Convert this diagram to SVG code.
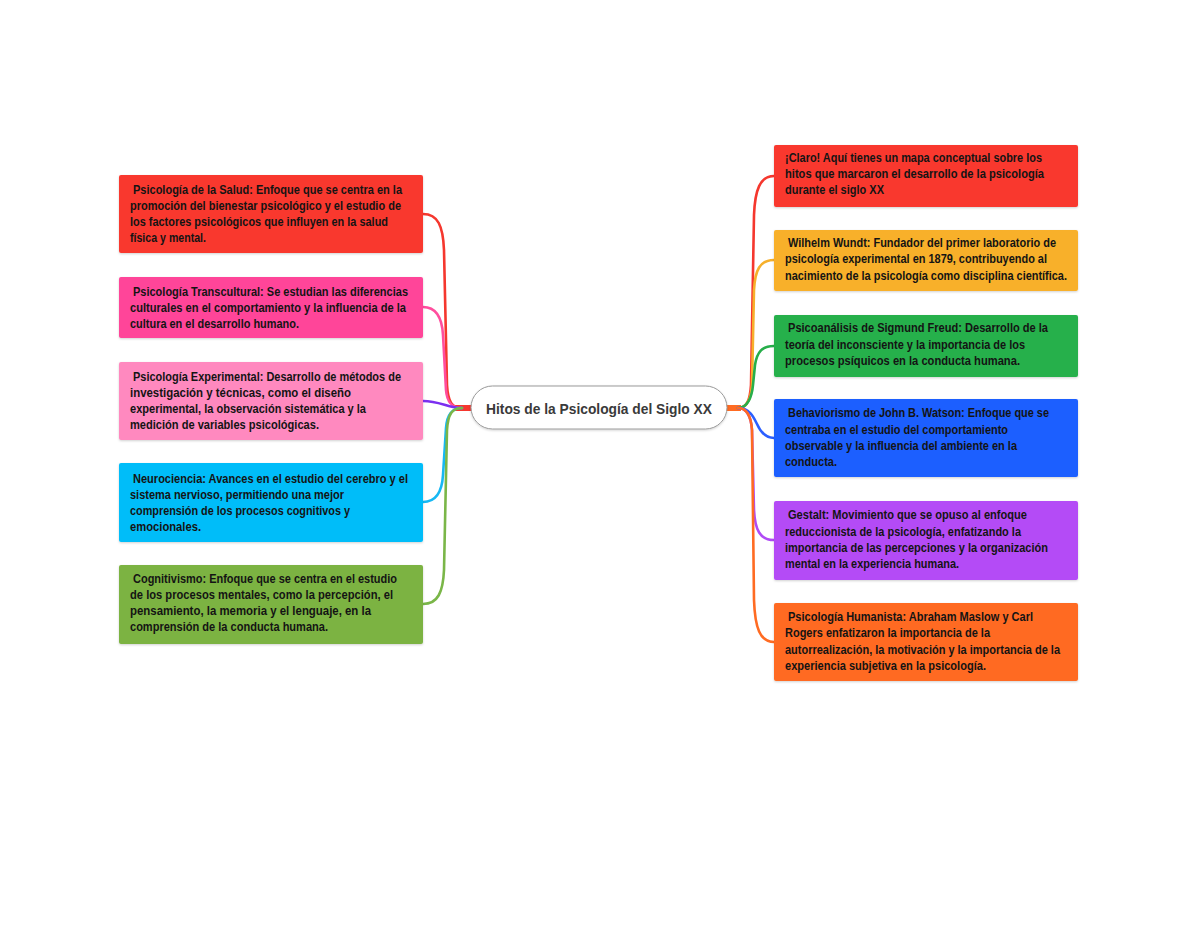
<svg xmlns="http://www.w3.org/2000/svg" width="1200" height="927" viewBox="0 0 1200 927">
<style>
.box{stroke:none}
.t{font-family:"Liberation Sans Narrow","Liberation Sans","DejaVu Sans Condensed",Arial,sans-serif;font-size:13px;font-weight:bold;fill:#141414}
.c{fill:none;stroke-width:2.6;stroke-linecap:round;stroke-linejoin:round}
.ct{font-family:"Liberation Sans",Arial,sans-serif;font-size:15px;font-weight:bold;fill:#3a3a3a}
</style>
<defs>
<filter id="sh" x="-10%" y="-20%" width="120%" height="150%">
<feDropShadow dx="0" dy="1" stdDeviation="1" flood-color="#000" flood-opacity="0.18"/>
</filter>
</defs>
<rect width="1200" height="927" fill="#ffffff"/>

<g id="connectors">
<line x1="455" y1="408" x2="472" y2="408" stroke="#F5372E" stroke-width="6"/>
<line x1="726" y1="408" x2="741" y2="408" stroke="#FF6B22" stroke-width="6"/>
<path class="c" stroke="#F5372E" d="M423,214 C438,214 443,226 444,250 L447,385 C448,402 452,408 462,408"/>
<path class="c" stroke="#FF4E9E" d="M423,307 C436,307 442,317 443,335 L446,390 C447,403 452,408 462,408"/>
<path class="c" stroke="#7B2FF0" d="M423,401 C440,401 448,408 462,408"/>
<path class="c" stroke="#16B8F3" d="M423,502 C436,502 442,492 443,475 L446,428 C447,414 452,408 462,408"/>
<path class="c" stroke="#7AB648" d="M423,604 C438,604 443,592 444,570 L447,430 C448,414 452,408 462,408"/>
<path class="c" stroke="#F5372E" d="M738,408 C747,408 750,400 751,385 L754,215 C755,190 760,176 774,176"/>
<path class="c" stroke="#F6B02B" d="M738,408 C747,408 751,398 752,385 L754,290 C755,270 760,260 774,260"/>
<path class="c" stroke="#27AE4A" d="M738,408 C748,408 752,396 753,385 L755,365 C757,352 762,346 774,346"/>
<path class="c" stroke="#2B5FFF" d="M738,408 C750,408 754,418 757,424 C761,433 766,438 774,438"/>
<path class="c" stroke="#B04CF5" d="M738,408 C747,408 751,416 752,430 L754,510 C755,530 760,540 774,540"/>
<path class="c" stroke="#FF6B22" d="M738,408 C747,408 751,416 752,430 L754,600 C755,628 760,642 774,642"/>
</g>

<g id="center">
<rect x="471" y="386" width="256" height="43" rx="21.5" fill="#ffffff" stroke="#9a9a9a" stroke-width="1" filter="url(#sh)"/>
<text class="ct" x="486" y="414" textLength="226" lengthAdjust="spacingAndGlyphs">Hitos de la Psicología del Siglo XX</text>
</g>

<g id="salud">
<rect class="box" x="119" y="175" width="304" height="78" rx="2" fill="#F9392F" filter="url(#sh)"/>
<text class="t" x="133" y="193.5" textLength="269" lengthAdjust="spacingAndGlyphs">Psicología de la Salud: Enfoque que se centra en la</text>
<text class="t" x="130" y="209.5" textLength="271" lengthAdjust="spacingAndGlyphs">promoción del bienestar psicológico y el estudio de</text>
<text class="t" x="130" y="225.5" textLength="258" lengthAdjust="spacingAndGlyphs">los factores psicológicos que influyen en la salud</text>
<text class="t" x="130" y="241.5" textLength="76" lengthAdjust="spacingAndGlyphs">física y mental.</text>
</g>

<g id="transcultural">
<rect class="box" x="119" y="277" width="304" height="61" rx="2" fill="#FF4499" filter="url(#sh)"/>
<text class="t" x="133" y="295.5" textLength="275" lengthAdjust="spacingAndGlyphs">Psicología Transcultural: Se estudian las diferencias</text>
<text class="t" x="130" y="311.5" textLength="276" lengthAdjust="spacingAndGlyphs">culturales en el comportamiento y la influencia de la</text>
<text class="t" x="130" y="327.5" textLength="169" lengthAdjust="spacingAndGlyphs">cultura en el desarrollo humano.</text>
</g>

<g id="experimental">
<rect class="box" x="119" y="362" width="304" height="78" rx="2" fill="#FF89BF" filter="url(#sh)"/>
<text class="t" x="133" y="381" textLength="268" lengthAdjust="spacingAndGlyphs">Psicología Experimental: Desarrollo de métodos de</text>
<text class="t" x="130" y="397" textLength="221" lengthAdjust="spacingAndGlyphs">investigación y técnicas, como el diseño</text>
<text class="t" x="130" y="413" textLength="236" lengthAdjust="spacingAndGlyphs">experimental, la observación sistemática y la</text>
<text class="t" x="130" y="429" textLength="189" lengthAdjust="spacingAndGlyphs">medición de variables psicológicas.</text>
</g>

<g id="neurociencia">
<rect class="box" x="119" y="463" width="304" height="79" rx="2" fill="#00BDF9" filter="url(#sh)"/>
<text class="t" x="133" y="483" textLength="275" lengthAdjust="spacingAndGlyphs">Neurociencia: Avances en el estudio del cerebro y el</text>
<text class="t" x="130" y="499" textLength="214" lengthAdjust="spacingAndGlyphs">sistema nervioso, permitiendo una mejor</text>
<text class="t" x="130" y="515" textLength="220" lengthAdjust="spacingAndGlyphs">comprensión de los procesos cognitivos y</text>
<text class="t" x="130" y="531" textLength="71" lengthAdjust="spacingAndGlyphs">emocionales.</text>
</g>

<g id="cognitivismo">
<rect class="box" x="119" y="565" width="304" height="79" rx="2" fill="#7CB342" filter="url(#sh)"/>
<text class="t" x="133" y="583" textLength="264" lengthAdjust="spacingAndGlyphs">Cognitivismo: Enfoque que se centra en el estudio</text>
<text class="t" x="130" y="599" textLength="263" lengthAdjust="spacingAndGlyphs">de los procesos mentales, como la percepción, el</text>
<text class="t" x="130" y="615" textLength="241" lengthAdjust="spacingAndGlyphs">pensamiento, la memoria y el lenguaje, en la</text>
<text class="t" x="130" y="631" textLength="198" lengthAdjust="spacingAndGlyphs">comprensión de la conducta humana.</text>
</g>

<g id="intro">
<rect class="box" x="774" y="145" width="304" height="62" rx="2" fill="#F9392F" filter="url(#sh)"/>
<text class="t" x="785" y="162" textLength="257" lengthAdjust="spacingAndGlyphs">¡Claro! Aquí tienes un mapa conceptual sobre los</text>
<text class="t" x="785" y="178" textLength="259" lengthAdjust="spacingAndGlyphs">hitos que marcaron el desarrollo de la psicología</text>
<text class="t" x="785" y="194" textLength="99" lengthAdjust="spacingAndGlyphs">durante el siglo XX</text>
</g>

<g id="wundt">
<rect class="box" x="774" y="230" width="304" height="61" rx="2" fill="#F8B02A" filter="url(#sh)"/>
<text class="t" x="788" y="247" textLength="268" lengthAdjust="spacingAndGlyphs">Wilhelm Wundt: Fundador del primer laboratorio de</text>
<text class="t" x="785" y="263" textLength="262" lengthAdjust="spacingAndGlyphs">psicología experimental en 1879, contribuyendo al</text>
<text class="t" x="785" y="280" textLength="282" lengthAdjust="spacingAndGlyphs">nacimiento de la psicología como disciplina científica.</text>
</g>

<g id="freud">
<rect class="box" x="774" y="315" width="304" height="62" rx="2" fill="#26B04B" filter="url(#sh)"/>
<text class="t" x="788" y="332" textLength="260" lengthAdjust="spacingAndGlyphs">Psicoanálisis de Sigmund Freud: Desarrollo de la</text>
<text class="t" x="785" y="349" textLength="240" lengthAdjust="spacingAndGlyphs">teoría del inconsciente y la importancia de los</text>
<text class="t" x="785" y="365" textLength="235" lengthAdjust="spacingAndGlyphs">procesos psíquicos en la conducta humana.</text>
</g>

<g id="watson">
<rect class="box" x="774" y="399" width="304" height="78" rx="2" fill="#1F5FFF" filter="url(#sh)"/>
<text class="t" x="788" y="417" textLength="261" lengthAdjust="spacingAndGlyphs">Behaviorismo de John B. Watson: Enfoque que se</text>
<text class="t" x="785" y="434" textLength="223" lengthAdjust="spacingAndGlyphs">centraba en el estudio del comportamiento</text>
<text class="t" x="785" y="450" textLength="232" lengthAdjust="spacingAndGlyphs">observable y la influencia del ambiente en la</text>
<text class="t" x="785" y="466" textLength="52" lengthAdjust="spacingAndGlyphs">conducta.</text>
</g>

<g id="gestalt">
<rect class="box" x="774" y="501" width="304" height="79" rx="2" fill="#B44BF6" filter="url(#sh)"/>
<text class="t" x="788" y="519" textLength="239" lengthAdjust="spacingAndGlyphs">Gestalt: Movimiento que se opuso al enfoque</text>
<text class="t" x="785" y="536" textLength="236" lengthAdjust="spacingAndGlyphs">reduccionista de la psicología, enfatizando la</text>
<text class="t" x="785" y="552" textLength="263" lengthAdjust="spacingAndGlyphs">importancia de las percepciones y la organización</text>
<text class="t" x="785" y="568" textLength="174" lengthAdjust="spacingAndGlyphs">mental en la experiencia humana.</text>
</g>

<g id="humanista">
<rect class="box" x="774" y="603" width="304" height="78" rx="2" fill="#FF6B22" filter="url(#sh)"/>
<text class="t" x="788" y="621" textLength="245" lengthAdjust="spacingAndGlyphs">Psicología Humanista: Abraham Maslow y Carl</text>
<text class="t" x="785" y="637" textLength="205" lengthAdjust="spacingAndGlyphs">Rogers enfatizaron la importancia de la</text>
<text class="t" x="785" y="654" textLength="275" lengthAdjust="spacingAndGlyphs">autorrealización, la motivación y la importancia de la</text>
<text class="t" x="785" y="670" textLength="201" lengthAdjust="spacingAndGlyphs">experiencia subjetiva en la psicología.</text>
</g>
</svg>
